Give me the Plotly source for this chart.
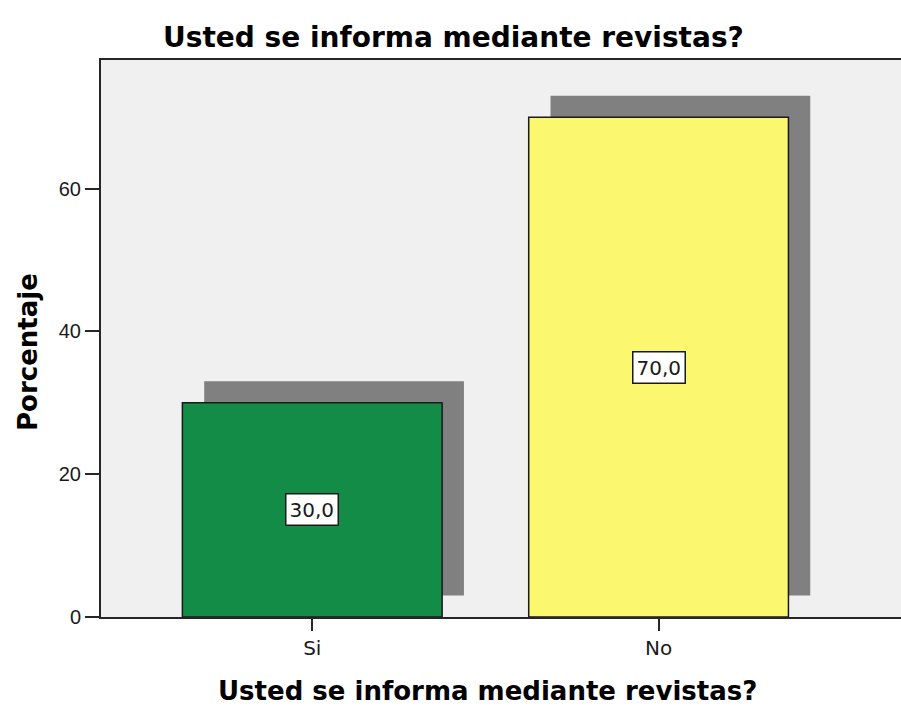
import plotly.graph_objects as go

# datos
categorias = ["Si", "No"]
porcentajes = [30.0, 70.0]
etiquetas = ["30,0", "70,0"]
colores = ["#128c46", "#fbf76e"]
y_ticks = [0, 20, 40, 60]

titulo = "Usted se informa mediante revistas?"

W, H = 901, 709
L, R, T, B = 101, 0, 60, 92
pw = W - L - R
ph = H - T - B

def px_x(p):
    return (p - L) / pw

def px_y(p):
    return (H - B - p) / ph

ancho = 0.75
dx = 0.063   # desplazamiento de la sombra (categorias)
dy = 3.0     # desplazamiento de la sombra (porcentaje)

fig = go.Figure()

# sombra gris detras de cada barra
fig.add_trace(go.Bar(x=categorias,
                     y=porcentajes,
                     base=[dy] * len(porcentajes),
                     width=ancho,
                     offset=-ancho / 2 + dx,
                     marker=dict(color="#808080", line=dict(width=0)),
                     hoverinfo="skip",
                     showlegend=False))

fig.add_trace(go.Bar(x=categorias,
                     y=porcentajes,
                     width=ancho,
                     offset=-ancho / 2,
                     marker=dict(color=colores, line=dict(color="#1a1a1a", width=1.5)),
                     showlegend=False))

for c, v, t in zip(categorias, porcentajes, etiquetas):
    fig.add_annotation(x=c, y=v / 2, xref="x", yref="y", text=t, showarrow=False,
                       font=dict(family="DejaVu Sans", size=20, color="#1a1a1a"),
                       bgcolor="white", bordercolor="#1a1a1a", borderwidth=1.5, borderpad=3)

# titulos
fig.add_annotation(x=px_x(453), y=px_y(38), xref="paper", yref="paper", text=titulo,
                   showarrow=False, xanchor="center", yanchor="middle",
                   font=dict(family="DejaVu Sans", size=28, color="black", weight="bold"))
fig.add_annotation(x=px_x(487), y=px_y(691), xref="paper", yref="paper", text=titulo,
                   showarrow=False, xanchor="center", yanchor="middle",
                   font=dict(family="DejaVu Sans", size=26, color="black", weight="bold"))
fig.add_annotation(x=px_x(28), y=px_y(352), xref="paper", yref="paper", text="Porcentaje",
                   showarrow=False, textangle=-90, xanchor="center", yanchor="middle",
                   font=dict(family="DejaVu Sans", size=26, color="black", weight="bold"))

fig.update_layout(
    width=W, height=H,
    margin=dict(l=L, r=R, t=T, b=B),
    paper_bgcolor="white",
    plot_bgcolor="#f0f0f0",
    barmode="overlay",
    xaxis=dict(range=[-0.61, 1.70], showgrid=False, zeroline=False,
               showline=True, linecolor="#262626", linewidth=2, mirror=True,
               ticks="outside", ticklen=12, tickwidth=2, tickcolor="#262626",
               tickfont=dict(family="DejaVu Sans", size=20, color="#1a1a1a")),
    yaxis=dict(range=[0, 78], tickvals=y_ticks, showgrid=False, zeroline=False,
               showline=True, linecolor="#262626", linewidth=2,
               ticks="outside", ticklen=14, tickwidth=2, tickcolor="#262626",
               tickfont=dict(family="Liberation Sans", size=20, color="#1a1a1a")),
)

# quitar el margen del body para que la figura empiece en (0, 0)
fig.write_html("out.html",
               config={"displayModeBar": False},
               post_script="document.body.style.margin='0';document.body.style.overflow='hidden';")
